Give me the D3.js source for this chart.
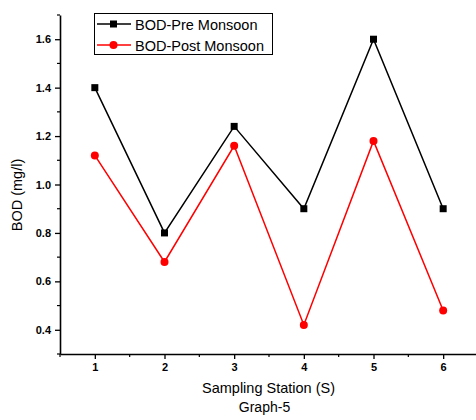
<!DOCTYPE html>
<html><head><meta charset="utf-8">
<script src="https://cdn.jsdelivr.net/npm/d3@7"></script>
<style>body{margin:0;background:#fff}svg{display:block}text{font-family:"Liberation Sans",Arial,sans-serif}</style>
</head><body>
<svg id="c" width="476" height="420"></svg>
<script>
const stations = [1, 2, 3, 4, 5, 6];
const preMonsoon = [1.4, 0.8, 1.24, 0.9, 1.6, 0.9];
const postMonsoon = [1.12, 0.68, 1.16, 0.42, 1.18, 0.48];
const yTicks = [0.4, 0.6, 0.8, 1.0, 1.2, 1.4, 1.6];
const yMinor = [0.3, 0.5, 0.7, 0.9, 1.1, 1.3, 1.5, 1.7];
const xMinor = [0.5, 1.5, 2.5, 3.5, 4.5, 5.5, 6.5];
const seriesNames = ["BOD-Pre Monsoon", "BOD-Post Monsoon"];
const seriesColors = ["#000000", "#ff0000"];

const svg = d3.select("#c");
const x = d3.scaleLinear().domain([0.5, 6.5]).range([60, 478]);
const y = d3.scaleLinear().domain([0.3, 1.7]).range([354, 15]);

// axes
const xAxis = d3.axisBottom(x).tickValues(stations).tickFormat(d3.format("d")).tickSize(5).tickSizeOuter(0);
const gx = svg.append("g").attr("transform", "translate(0,354)").call(xAxis);
const yAxis = d3.axisLeft(y).tickValues(yTicks).tickFormat(d3.format(".1f")).tickSize(5).tickSizeOuter(0);
const gy = svg.append("g").attr("transform", "translate(60,0)").call(yAxis);
[gx, gy].forEach(g => {
  g.select(".domain").attr("stroke", "#000").attr("stroke-width", 1.6);
  g.selectAll(".tick line").attr("stroke", "#000").attr("stroke-width", 1.3);
  g.selectAll(".tick text").attr("fill", "#000").style("font-weight", "bold").style("font-size", "11px");
});
gx.selectAll(".tick text").attr("dy", "0.71em").attr("y", 9);
gy.selectAll(".tick text").attr("x", -9);
// minor ticks
svg.append("g").selectAll("line").data(xMinor).join("line")
  .attr("x1", d => x(d)).attr("x2", d => x(d)).attr("y1", 354).attr("y2", 357)
  .attr("stroke", "#000").attr("stroke-width", 1.2);
svg.append("g").selectAll("line").data(yMinor).join("line")
  .attr("x1", 57).attr("x2", 60).attr("y1", d => y(d)).attr("y2", d => y(d))
  .attr("stroke", "#000").attr("stroke-width", 1.2);

// data
const series = [preMonsoon, postMonsoon];
const line = d3.line().x((d, i) => x(stations[i])).y(d => y(d));
series.forEach((vals, si) => {
  svg.append("path").datum(vals).attr("d", line).attr("fill", "none")
    .attr("stroke", seriesColors[si]).attr("stroke-width", 1.5);
  const g = svg.append("g");
  if (si === 0) {
    g.selectAll("rect").data(vals).join("rect")
      .attr("x", (d, i) => x(stations[i]) - 3.5).attr("y", d => y(d) - 3.5)
      .attr("width", 7).attr("height", 7).attr("fill", seriesColors[si]);
  } else {
    g.selectAll("circle").data(vals).join("circle")
      .attr("cx", (d, i) => x(stations[i])).attr("cy", d => y(d)).attr("r", 4)
      .attr("fill", seriesColors[si]);
  }
});

// legend
const lg = svg.append("g");
lg.append("rect").attr("x", 94.5).attr("y", 13.5).attr("width", 178).attr("height", 41)
  .attr("fill", "#fff").attr("stroke", "#000").attr("stroke-width", 1);
seriesNames.forEach((name, i) => {
  const cy = 24 + i * 21;
  lg.append("line").attr("x1", 97).attr("x2", 131).attr("y1", cy).attr("y2", cy)
    .attr("stroke", seriesColors[i]).attr("stroke-width", 1.5);
  if (i === 0) lg.append("rect").attr("x", 113.5 - 3.5).attr("y", cy - 3.5).attr("width", 7).attr("height", 7).attr("fill", seriesColors[i]);
  else lg.append("circle").attr("cx", 113.5).attr("cy", cy).attr("r", 4).attr("fill", seriesColors[i]);
  lg.append("text").attr("x", 135).attr("y", cy + 5.5).text(name)
    .style("font-size", "14.5px").attr("fill", "#000");
});

// labels
svg.append("text").attr("x", 268.5).attr("y", 393).attr("text-anchor", "middle")
  .style("font-size", "14.5px").text("Sampling Station (S)");
svg.append("text").attr("x", 264.5).attr("y", 411.5).attr("text-anchor", "middle")
  .style("font-size", "14px").text("Graph-5");
svg.append("text").attr("transform", "translate(22,195) rotate(-90)").attr("text-anchor", "middle")
  .style("font-size", "14.5px").text("BOD (mg/l)");
</script>
</body></html>
